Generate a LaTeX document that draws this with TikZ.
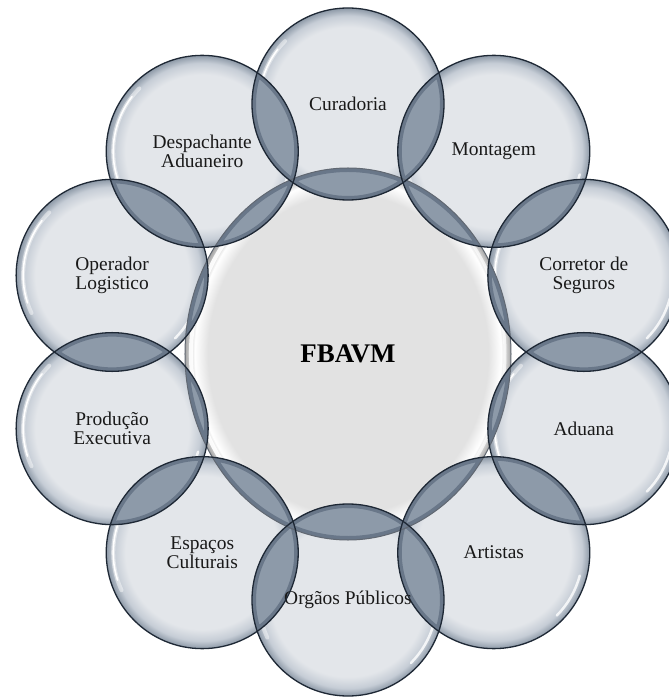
\documentclass[tikz,border=0pt]{standalone}
\usepackage{fontspec}
\setmainfont{Liberation Serif}
\usetikzlibrary{shapes.geometric}

\definecolor{rimcol}{HTML}{1E2835}
\definecolor{bubblecore}{HTML}{E3E6EA}
\definecolor{bubblemid}{HTML}{C6CDD6}
\definecolor{bubbleedge}{HTML}{8D99A7}
\definecolor{lenscol}{HTML}{8D9AA9}
\definecolor{lensdark}{HTML}{34435A}
\definecolor{hubcore}{HTML}{E2E2E2}
\definecolor{hubedge}{HTML}{A4A4A4}

\pgfdeclareradialshading{bubble}{\pgfpoint{0bp}{0bp}}{%
    color(0bp)=(bubblecore); color(20bp)=(bubblecore);
    color(23bp)=(bubblemid); color(25bp)=(bubbleedge); color(50bp)=(bubbleedge)}
\pgfdeclareradialshading{hub}{\pgfpoint{0bp}{0bp}}{%
    color(0bp)=(hubcore); color(21.5bp)=(hubcore);
    color(23.5bp)=(white); color(25bp)=(hubedge); color(50bp)=(hubedge)}

\pgfdeclarelayer{bodies}
\pgfdeclarelayer{lenses}
\pgfsetlayers{bodies,lenses,main}

\begin{document}
\begin{tikzpicture}[x=1bp,y=1bp,
    ring node/.style={circle,draw=rimcol,line width=1.3bp,minimum size=192bp,inner sep=0pt,align=center,text=black!90,font=\fontsize{19.5}{19.5}\selectfont},
    hub node/.style={ellipse,draw=rimcol!70,line width=1bp,minimum width=326bp,minimum height=372bp,inner sep=0pt,font=\fontsize{27}{27}\selectfont\bfseries},
    lens/.style={fill=lenscol},
    lens rim/.style={draw=lensdark,line width=8bp,opacity=.4},
    gloss/.style={draw=white,line cap=round}]

    \useasboundingbox (-348,-346) rectangle (321,352);

    \node[hub node] (fbavm) at (0,-2) {FBAVM};
    \node[ring node] (curadoria) at (90:248) {Curadoria};
    \node[ring node] (montagem) at (54:248) {Montagem};
    \node[ring node] (corretor) at (18:248) {Corretor de\\Seguros};
    \node[ring node] (aduana) at (-18:248) {Aduana};
    \node[ring node] (artistas) at (-54:248) {Artistas};
    \node[ring node] (orgaos) at (-90:248) {Orgãos Públicos};
    \node[ring node] (espacos) at (-126:248) {Espaços\\Culturais};
    \node[ring node] (producao) at (-162:248) {Produção\\Executiva};
    \node[ring node] (operador) at (162:248) {Operador\\Logistico};
    \node[ring node] (despachante) at (126:248) {Despachante\\Aduaneiro};

    % shaded bodies with their highlights
    \begin{pgfonlayer}{bodies}
        \fill[white] (-348,-346) rectangle (321,352);
        \shade[shading=hub] (fbavm.center) ellipse[x radius=163bp,y radius=186bp];
        \draw[gloss,line width=4bp,opacity=.9] (fbavm.center) ++(115:157bp and 180bp)
            arc[start angle=115,end angle=245,x radius=157bp,y radius=180bp];
        \draw[gloss,line width=3bp,opacity=.7] (fbavm.center) ++(-35:157bp and 180bp)
            arc[start angle=-35,end angle=40,x radius=157bp,y radius=180bp];
        \foreach \n in {curadoria,montagem,corretor,aduana,artistas,orgaos,espacos,producao,operador,despachante} {
            \shade[shading=bubble] (\n.center) circle[radius=96bp];
            \draw[gloss,line width=4bp,opacity=.45] (\n.center) ++(135:89bp) arc[start angle=135,end angle=205,radius=89bp];
            \draw[gloss,line width=1.6bp] (\n.center) ++(142:89bp) arc[start angle=142,end angle=198,radius=89bp];
            \draw[gloss,line width=2.5bp,opacity=.8] (\n.center) ++(-15:89bp) arc[start angle=-15,end angle=-45,radius=89bp];
        }
    \end{pgfonlayer}

    % darker overlaps
    \begin{pgfonlayer}{lenses}
        \foreach \a/\b in {curadoria/montagem,montagem/corretor,corretor/aduana,aduana/artistas,artistas/orgaos,
                orgaos/espacos,espacos/producao,producao/operador,operador/despachante,despachante/curadoria} {
            \begin{scope}
                \clip (\a.center) circle[radius=96bp];
                \clip (\b.center) circle[radius=96bp];
                \fill[lens] (\a.center) circle[radius=96bp];
                \draw[lens rim] (\a.center) circle[radius=96bp] (\b.center) circle[radius=96bp];
            \end{scope}
        }
        \foreach \a in {curadoria,montagem,corretor,aduana,artistas,orgaos,espacos,producao,operador,despachante} {
            \begin{scope}
                \clip (fbavm.center) ellipse[x radius=163bp,y radius=186bp];
                \clip (\a.center) circle[radius=96bp];
                \fill[lens] (\a.center) circle[radius=96bp];
                \draw[lens rim] (fbavm.center) ellipse[x radius=163bp,y radius=186bp] (\a.center) circle[radius=96bp];
            \end{scope}
        }
    \end{pgfonlayer}

\end{tikzpicture}
\end{document}
